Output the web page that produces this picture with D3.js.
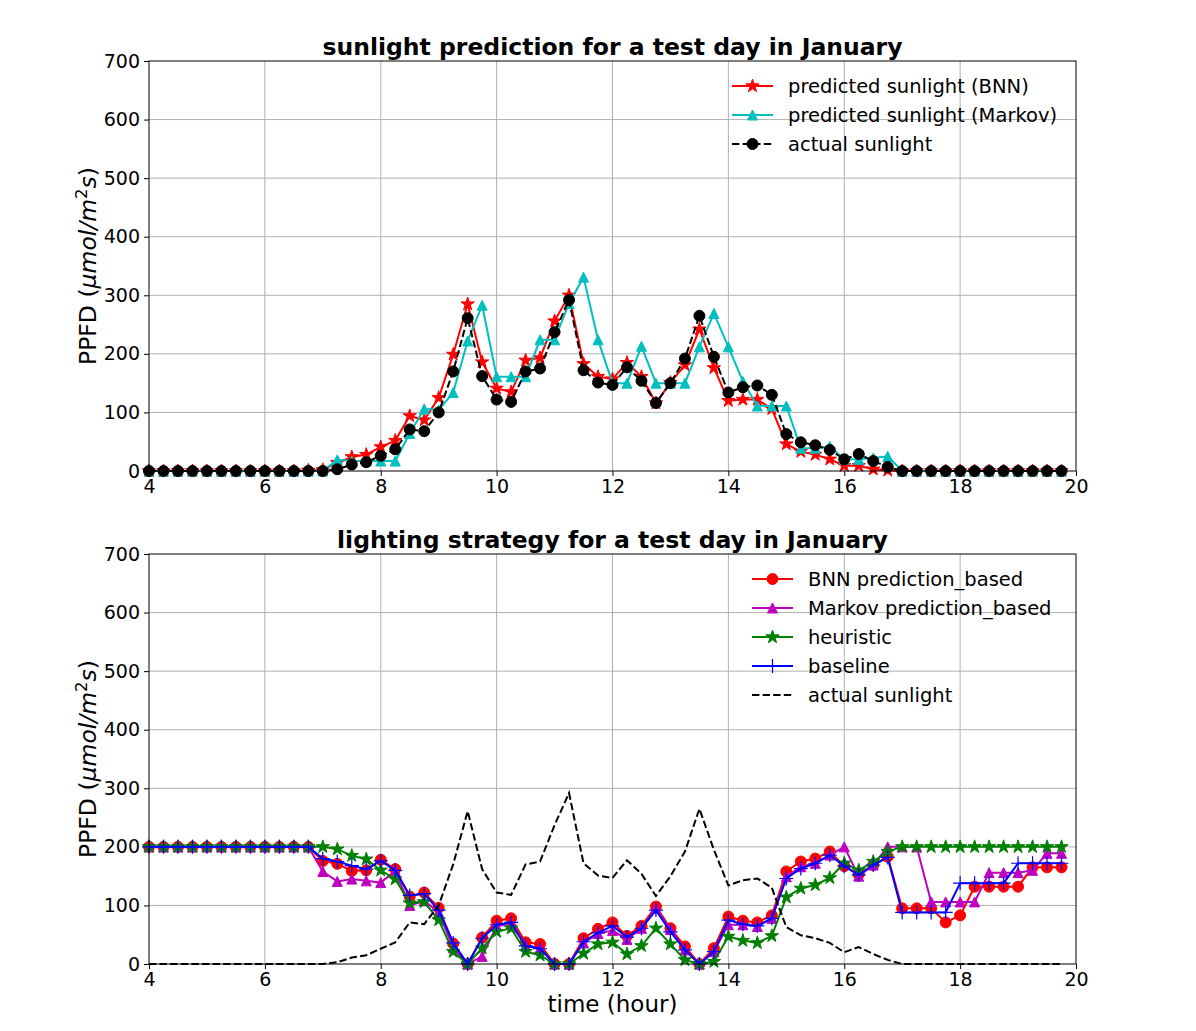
<!doctype html>
<html>
<head>
<meta charset="utf-8">
<script src="https://d3js.org/d3.v7.min.js"></script>
<style>
  body {margin: 0; background: #fff;}
  svg {font-family: "DejaVu Sans", sans-serif;}
  .grid line {stroke: #b0b0b0; stroke-width: 1;}
</style>
</head>
<body>
<svg width="1196" height="1031"></svg>
<script>
// time of day, every 15 min
const hours = [4, 4.25, 4.5, 4.75, 5, 5.25, 5.5, 5.75, 6, 6.25, 6.5, 6.75,
  7, 7.25, 7.5, 7.75, 8, 8.25, 8.5, 8.75, 9, 9.25, 9.5, 9.75,
  10, 10.25, 10.5, 10.75, 11, 11.25, 11.5, 11.75, 12, 12.25, 12.5, 12.75,
  13, 13.25, 13.5, 13.75, 14, 14.25, 14.5, 14.75, 15, 15.25, 15.5, 15.75,
  16, 16.25, 16.5, 16.75, 17, 17.25, 17.5, 17.75, 18, 18.25, 18.5, 18.75,
  19, 19.25, 19.5, 19.75];

const actualSun = [0, 0, 0, 0, 0, 0, 0, 0, 0, 0, 0, 0,
  0, 3, 11, 15, 26, 37, 71, 68, 100, 170, 261, 162,
  122, 118, 170, 175, 237, 292, 172, 151, 147, 177, 154, 116,
  150, 192, 265, 195, 134, 143, 146, 130, 63, 49, 44, 36,
  20, 29, 17, 7, 0, 0, 0, 0, 0, 0, 0, 0,
  0, 0, 0, 0];

const bnnSun = [0, 0, 0, 0, 0, 0, 0, 0, 0, 0, 0, 1,
  2, 14, 24, 28, 41, 52, 94, 87, 125, 199, 285, 186,
  141, 135, 189, 193, 256, 300, 183, 161, 157, 185, 161, 116,
  151, 181, 242, 176, 120, 122, 122, 106, 46, 33, 28, 20,
  9, 9, 3, 1, 0, 0, 0, 0, 0, 0, 0, 0,
  0, 0, 0, 0];

const markovSun = [0, 0, 0, 0, 0, 0, 0, 0, 0, 0, 0, 0,
  0, 19, 17, 17, 17, 17, 64, 106, 104, 134, 222, 283,
  161, 161, 161, 224, 224, 286, 331, 224, 150, 150, 213, 150,
  150, 150, 212, 269, 212, 153, 111, 111, 111, 39, 39, 42,
  20, 20, 22, 25, 0, 0, 0, 0, 0, 0, 0, 0,
  0, 0, 0, 0];

const bnnLight = [200, 200, 200, 200, 200, 200, 200, 200, 200, 200, 200, 200,
  176, 171, 159, 160, 178, 162, 115, 122, 96, 35, 0, 45,
  74, 78, 37, 34, 0, 0, 44, 60, 71, 48, 65, 98,
  61, 30, 0, 27, 81, 74, 71, 83, 158, 175, 180, 192,
  167, 153, 169, 183, 95, 95, 95, 71, 83, 132, 132, 132,
  132, 165, 165, 165];

const markovLight = [200, 200, 200, 200, 200, 200, 200, 200, 200, 200, 200, 200,
  158, 141, 145, 142, 139, 159, 100, 108, 88, 28, 0, 13,
  65, 68, 31, 27, 0, 0, 36, 52, 57, 42, 61, 95,
  59, 24, 0, 21, 67, 67, 64, 78, 149, 166, 172, 186,
  200, 150, 169, 200, 200, 200, 106, 106, 106, 106, 156, 156,
  156, 160, 189, 189];

const heuristicLight = [200, 200, 200, 200, 200, 200, 200, 200, 200, 200, 200, 200,
  200, 196, 185, 179, 160, 145, 104, 106, 75, 21, 0, 27,
  55, 61, 21, 15, 0, 0, 18, 34, 37, 17, 31, 61,
  34, 7, 0, 4, 47, 40, 36, 48, 114, 129, 135, 147,
  172, 160, 175, 192, 200, 200, 200, 200, 200, 200, 200, 200,
  200, 200, 200, 200];

const baselineLight = [200, 200, 200, 200, 200, 200, 200, 200, 200, 200, 200, 200,
  180, 175, 168, 162, 176, 160, 117, 120, 92, 36, 0, 44,
  67, 71, 31, 26, 0, 0, 38, 53, 65, 46, 61, 92,
  55, 24, 0, 21, 75, 68, 65, 78, 146, 163, 172, 186,
  167, 152, 169, 182, 88, 88, 88, 88, 138, 138, 138, 138,
  172, 172, 172, 172];

const xTicks = [4, 6, 8, 10, 12, 14, 16, 18, 20];
const yTicks = [0, 100, 200, 300, 400, 500, 600, 700];

// marker shapes, size = width in px
const markers = {
  star: function(s) {
    const R = s / 2, r = R * 0.381966, p = d3.path();
    for (let i = 0; i < 10; i++) {
      const a = Math.PI * i / 5, rr = i % 2 ? r : R;
      const px = rr * Math.sin(a), py = -rr * Math.cos(a);
      if (i == 0) p.moveTo(px, py); else p.lineTo(px, py);
    }
    p.closePath();
    return p.toString();
  },
  triangle: function(s) {
    const h = s / 2;
    return `M0,${-h}L${h},${h}L${-h},${h}Z`;
  },
  circle: function(s) {
    const r = s / 2;
    return `M${r},0A${r},${r} 0 1,1 ${-r},0A${r},${r} 0 1,1 ${r},0Z`;
  },
  plus: function(s) {
    const h = s / 2;
    return `M${-h},0H${h}M0,${-h}V${h}`;
  }
};

const svg = d3.select('svg');
const x = d3.scaleLinear().domain([4, 20]).range([149, 1076]);

function drawPanel(top, title, series, legendX, legendY) {
  const y = d3.scaleLinear().domain([0, 700]).range([top + 410, top]);
  const g = svg.append('g');

  // grid
  g.append('g').attr('class', 'grid').selectAll('line')
    .data(xTicks.slice(1, -1)).enter().append('line')
    .attr('x1', d => x(d)).attr('x2', d => x(d))
    .attr('y1', top).attr('y2', top + 410);
  g.append('g').attr('class', 'grid').selectAll('line')
    .data(yTicks.slice(1, -1)).enter().append('line')
    .attr('x1', 149).attr('x2', 1076)
    .attr('y1', d => y(d)).attr('y2', d => y(d));

  // axes
  const ax = g.append('g').attr('transform', `translate(0,${top + 410})`)
    .call(d3.axisBottom(x).tickValues(xTicks).tickSize(5).tickPadding(2).tickFormat(d3.format('d')));
  const ay = g.append('g').attr('transform', 'translate(149,0)')
    .call(d3.axisLeft(y).tickValues(yTicks).tickSize(5).tickPadding(4));
  [ax, ay].forEach(a => {
    a.select('.domain').remove();
    a.selectAll('text').attr('font-size', 19).attr('font-family', 'DejaVu Sans').attr('fill', '#000');
    a.selectAll('line').attr('stroke', '#000');
  });
  ax.selectAll('text').attr('dy', '0.8em');

  // series
  series.forEach(s => {
    const line = d3.line().x((d, i) => x(hours[i])).y(d => y(d));
    g.append('path').datum(s.values)
      .attr('d', line).attr('fill', 'none')
      .attr('stroke', s.color).attr('stroke-width', 2)
      .attr('stroke-dasharray', s.dash ? '7.4,3.2' : null);
    if (s.marker) {
      g.append('g').selectAll('path').data(s.values).enter().append('path')
        .attr('transform', (d, i) => `translate(${x(hours[i])},${y(d)})`)
        .attr('d', markers[s.marker](s.size))
        .attr('fill', s.marker == 'plus' ? 'none' : s.color)
        .attr('stroke', s.color).attr('stroke-width', s.marker == 'plus' ? 1.2 : 1);
    }
  });

  // frame
  g.append('rect').attr('x', 149).attr('y', top).attr('width', 927).attr('height', 410)
    .attr('fill', 'none').attr('stroke', '#000').attr('stroke-width', 1);

  // title
  g.append('text').attr('x', 612.5).attr('y', top - 6).attr('text-anchor', 'middle')
    .attr('font-size', 23.5).attr('font-weight', 'bold').text(title);

  // y label
  const yl = g.append('text').attr('transform', `translate(96,${top + 205}) rotate(-90)`)
    .attr('text-anchor', 'middle').attr('font-size', 23.5);
  yl.append('tspan').text('PPFD (');
  yl.append('tspan').attr('font-style', 'italic').text('μmol/m');
  yl.append('tspan').attr('font-size', 16.5).attr('dy', -9).text('2');
  yl.append('tspan').attr('font-style', 'italic').attr('dy', 9).text('s');
  yl.append('tspan').text(')');

  // legend
  series.forEach((s, i) => {
    const ly = legendY + i * 29;
    const lg = g.append('g');
    lg.append('line').attr('x1', legendX).attr('x2', legendX + 41)
      .attr('y1', ly).attr('y2', ly).attr('stroke', s.color).attr('stroke-width', 2)
      .attr('stroke-dasharray', s.dash ? '7.4,3.2' : null);
    if (s.marker) {
      lg.append('path').attr('transform', `translate(${legendX + 20.5},${ly})`)
        .attr('d', markers[s.marker](s.size))
        .attr('fill', s.marker == 'plus' ? 'none' : s.color)
        .attr('stroke', s.color).attr('stroke-width', s.marker == 'plus' ? 1.2 : 1);
    }
    lg.append('text').attr('x', legendX + 56).attr('y', ly).attr('dy', '0.35em')
      .attr('font-size', 19.5).text(s.name);
  });
}

drawPanel(61, 'sunlight prediction for a test day in January', [
  {name: 'predicted sunlight (BNN)', values: bnnSun, color: '#ff0000', marker: 'star', size: 14},
  {name: 'predicted sunlight (Markov)', values: markovSun, color: '#00bfbf', marker: 'triangle', size: 10},
  {name: 'actual sunlight', values: actualSun, color: '#000000', marker: 'circle', size: 11, dash: true}
], 732, 86);

drawPanel(554, 'lighting strategy for a test day in January', [
  {name: 'BNN prediction_based', values: bnnLight, color: '#ff0000', marker: 'circle', size: 11},
  {name: 'Markov prediction_based', values: markovLight, color: '#bf00bf', marker: 'triangle', size: 10},
  {name: 'heuristic', values: heuristicLight, color: '#008000', marker: 'star', size: 14},
  {name: 'baseline', values: baselineLight, color: '#0000ff', marker: 'plus', size: 14},
  {name: 'actual sunlight', values: actualSun, color: '#000000', dash: true}
], 752, 579);

svg.append('text').attr('x', 612.5).attr('y', 1012).attr('text-anchor', 'middle')
  .attr('font-size', 23).text('time (hour)');
</script>
</body>
</html>
